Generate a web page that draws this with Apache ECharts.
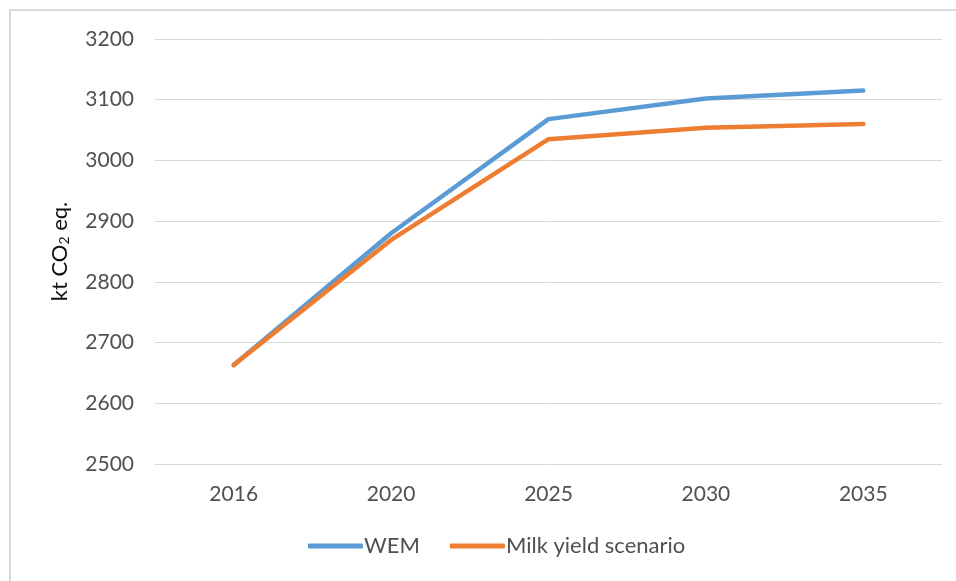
<!DOCTYPE html>
<html>
<head>
<meta charset="utf-8">
<script src="https://cdn.jsdelivr.net/npm/echarts@6/dist/echarts.min.js"></script>
<style>
  html, body { margin: 0; padding: 0; background: #fff; }
  #chart { width: 956px; height: 581px; }
</style>
</head>
<body>
<div id="chart"></div>
<script>
// Emission projections, kt CO2 eq.
var years = ['2016', '2020', '2025', '2030', '2035'];
var wem = [2663, 2880, 3068, 3102, 3115];
var milkYield = [2663, 2869, 3035, 3054, 3060];
var seriesNames = ['WEM', 'Milk yield scenario'];

var FONT = 'Lato, "Open Sans", sans-serif';
var TEXT = '#505050';

var chart = echarts.init(document.getElementById('chart'));
chart.setOption({
  animation: false,
  backgroundColor: '#ffffff',
  graphic: [{
    type: 'rect',
    shape: { x: 10, y: 10, width: 1200, height: 1200 },
    style: { fill: 'none', stroke: '#d9d9d9', lineWidth: 2 },
    silent: true
  }],
  grid: { left: 155, right: 14, top: 39, bottom: 117 },
  legend: {
    bottom: 19,
    left: 303,
    icon: 'roundRect',
    itemWidth: 55,
    itemHeight: 5,
    itemGap: 30,
    textStyle: { fontFamily: FONT, fontSize: 22, color: TEXT, padding: [0, 0, 0, -4] },
    data: seriesNames
  },
  xAxis: {
    type: 'category',
    data: years,
    boundaryGap: true,
    axisLine: { show: true, lineStyle: { color: '#d9d9d9', width: 1 } },
    axisTick: { show: false },
    axisLabel: { fontFamily: FONT, fontSize: 21, color: TEXT, margin: 20 }
  },
  yAxis: {
    type: 'value',
    min: 2500,
    max: 3200,
    interval: 100,
    axisLine: { show: false },
    axisTick: { show: false },
    splitLine: { lineStyle: { color: '#d9d9d9', width: 1 } },
    axisLabel: {
      fontFamily: FONT, fontSize: 21, color: TEXT, margin: 21,
      formatter: function (v) { return String(v); }
    },
    name: '{a|kt CO}{s|2}{a| eq.}',
    nameLocation: 'middle',
    nameRotate: 90,
    nameGap: 84,
    nameTextStyle: {
      rich: {
        a: { fontFamily: FONT, fontSize: 22, color: '#111', verticalAlign: 'bottom', lineHeight: 26 },
        s: { fontFamily: FONT, fontSize: 14, color: '#111', verticalAlign: 'bottom', lineHeight: 19 }
      }
    }
  },
  series: [
    {
      name: seriesNames[0],
      type: 'line',
      data: wem,
      symbol: 'none',
      lineStyle: { color: '#5b9bd5', width: 4.5, cap: 'round', join: 'round' },
      itemStyle: { color: '#5b9bd5' }
    },
    {
      name: seriesNames[1],
      type: 'line',
      data: milkYield,
      symbol: 'none',
      lineStyle: { color: '#ed7d31', width: 4.5, cap: 'round', join: 'round' },
      itemStyle: { color: '#ed7d31' }
    }
  ]
});
</script>
</body>
</html>
